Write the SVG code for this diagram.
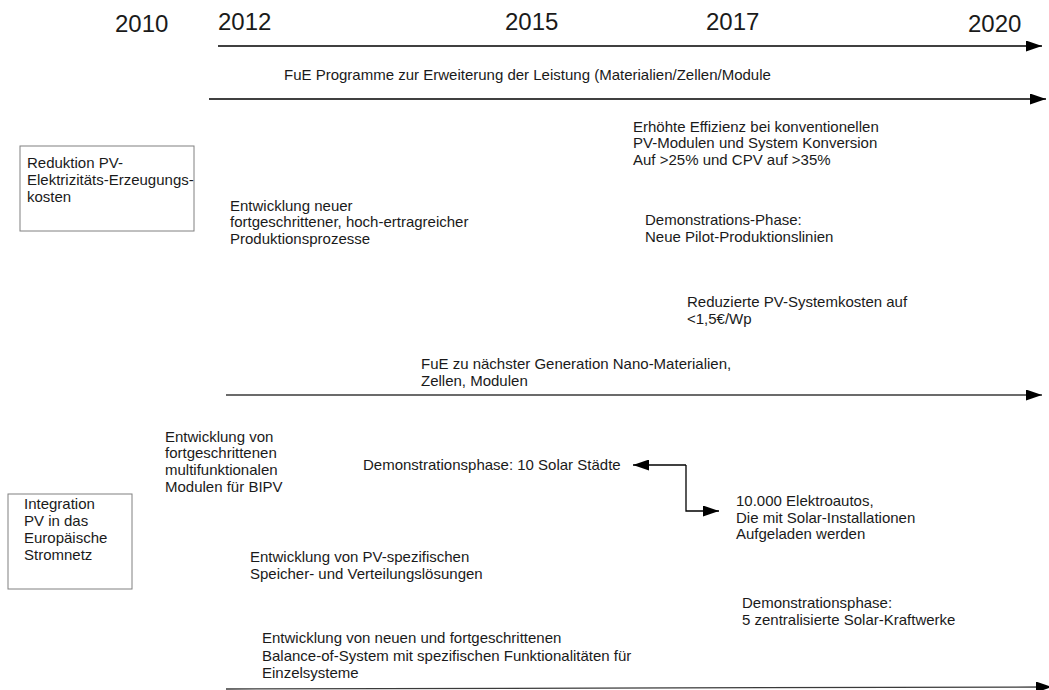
<svg xmlns="http://www.w3.org/2000/svg" width="1049" height="690" viewBox="0 0 1049 690">
<style>
text{font-family:"Liberation Sans",Arial,sans-serif;fill:#1a1a1a}
.t{font-size:15px}
.y{font-size:24px}
.box{fill:#fff;stroke:#808080;stroke-width:1}
.ln{stroke:#000;stroke-width:1.3;fill:none}
.g{stroke:#3a3a3a}
</style>
<defs>
<marker id="ah" viewBox="0 0 16 11" refX="16" refY="5.5" markerWidth="16" markerHeight="11" markerUnits="userSpaceOnUse" orient="auto">
<path d="M0,0 L16,5.5 L0,11 Z" fill="#000"/>
</marker>
</defs>
<rect width="1049" height="690" fill="#fff"/>
<g id="years">
<text class="y" x="115" y="32">2010</text>
<text class="y" x="218" y="30">2012</text>
<text class="y" x="505" y="30">2015</text>
<text class="y" x="706" y="30">2017</text>
<text class="y" x="968" y="32">2020</text>
</g>
<g id="connectors">
<line class="ln" x1="218" y1="46" x2="1042" y2="46" marker-end="url(#ah)"/>
<line class="ln" x1="209" y1="99" x2="1046" y2="99" marker-end="url(#ah)"/>
<line class="ln g" x1="226" y1="395" x2="1042" y2="395" marker-end="url(#ah)"/>
<line class="ln g" x1="226" y1="689" x2="1052" y2="687" marker-end="url(#ah)"/>
<path class="ln" d="M686,465 H633" marker-end="url(#ah)"/>
<path class="ln" d="M686,465 V511 H719" marker-end="url(#ah)"/>
</g>
<g id="n1"><text class="t" x="284" y="80">FuE Programme zur Erweiterung der Leistung (Materialien/Zellen/Module</text></g>
<g id="box1">
<rect class="box" x="20" y="146" width="174" height="85"/>
<text class="t" x="27" y="168">Reduktion PV-</text>
<text class="t" x="27" y="185">Elektrizitäts-Erzeugungs-</text>
<text class="t" x="27" y="202">kosten</text>
</g>
<g id="n2">
<text class="t" x="230" y="211">Entwicklung neuer</text>
<text class="t" x="230" y="227">fortgeschrittener, hoch-ertragreicher</text>
<text class="t" x="230" y="244">Produktionsprozesse</text>
</g>
<g id="n3">
<text class="t" x="633" y="132">Erhöhte Effizienz bei konventionellen</text>
<text class="t" x="633" y="148">PV-Modulen und System Konversion</text>
<text class="t" x="633" y="165">Auf &gt;25% und CPV auf &gt;35%</text>
</g>
<g id="n4">
<text class="t" x="645" y="225">Demonstrations-Phase:</text>
<text class="t" x="645" y="242">Neue Pilot-Produktionslinien</text>
</g>
<g id="n5">
<text class="t" x="687" y="307">Reduzierte PV-Systemkosten auf</text>
<text class="t" x="687" y="324">&lt;1,5€/Wp</text>
</g>
<g id="n6">
<text class="t" x="421" y="369">FuE zu nächster Generation Nano-Materialien,</text>
<text class="t" x="421" y="386">Zellen, Modulen</text>
</g>
<g id="n7">
<text class="t" x="165" y="442">Entwicklung von</text>
<text class="t" x="165" y="458">fortgeschrittenen</text>
<text class="t" x="165" y="475">multifunktionalen</text>
<text class="t" x="165" y="492">Modulen für BIPV</text>
</g>
<g id="n8"><text class="t" x="363" y="470">Demonstrationsphase: 10 Solar Städte</text></g>
<g id="n9">
<text class="t" x="736" y="506">10.000 Elektroautos,</text>
<text class="t" x="736" y="523">Die mit Solar-Installationen</text>
<text class="t" x="736" y="539">Aufgeladen werden</text>
</g>
<g id="box2">
<rect class="box" x="8" y="494" width="124" height="95"/>
<text class="t" x="24" y="509">Integration</text>
<text class="t" x="24" y="526">PV in das</text>
<text class="t" x="24" y="543">Europäische</text>
<text class="t" x="24" y="560">Stromnetz</text>
</g>
<g id="n10">
<text class="t" x="250" y="562">Entwicklung von PV-spezifischen</text>
<text class="t" x="250" y="579">Speicher- und Verteilungslösungen</text>
</g>
<g id="n11">
<text class="t" x="742" y="608">Demonstrationsphase:</text>
<text class="t" x="742" y="625">5 zentralisierte Solar-Kraftwerke</text>
</g>
<g id="n12">
<text class="t" x="262" y="643">Entwicklung von neuen und fortgeschrittenen</text>
<text class="t" x="262" y="661">Balance-of-System mit spezifischen Funktionalitäten für</text>
<text class="t" x="262" y="678">Einzelsysteme</text>
</g>
</svg>
